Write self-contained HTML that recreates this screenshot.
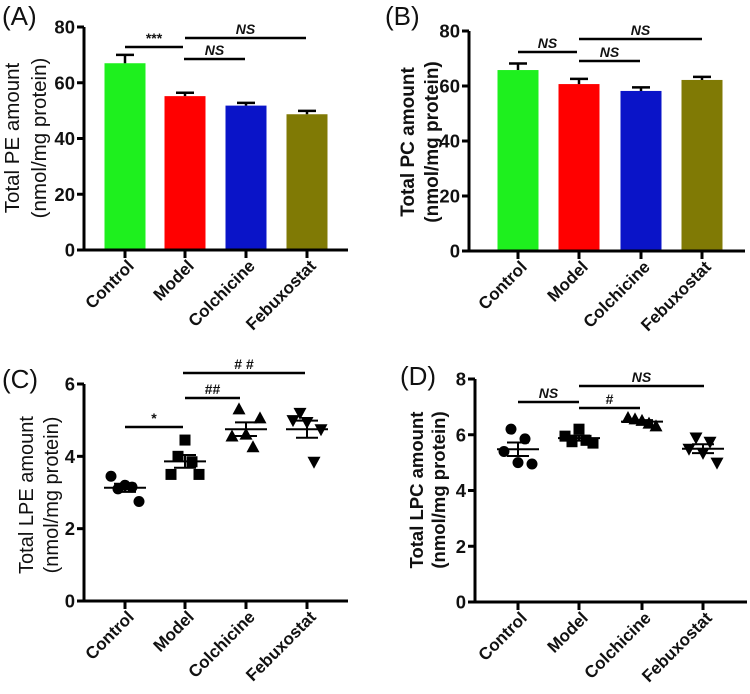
<!DOCTYPE html>
<html><head><meta charset="utf-8"><style>
html,body{margin:0;padding:0;background:#fff;}
svg{display:block;font-family:"Liberation Sans",Arial,sans-serif;}
</style></head><body>
<svg id="fig" width="750" height="694" viewBox="0 0 750 694"></svg>
<script>
const categories = ["Control","Model","Colchicine","Febuxostat"];
const barColors = ["#1ef01e","#ff0000","#0a14c8","#807a05"];
const peMeans = [67, 55.2, 51.8, 48.7];
const peErr = [3.0, 1.2, 1.0, 1.2];
const pcMeans = [65.8, 60.7, 58.2, 62.2];
const pcErr = [2.4, 1.9, 1.3, 1.1];
const lpeCtrl = [3.45, 3.1, 3.2, 3.15, 2.75];
const lpeModel = [3.5, 4.0, 4.45, 3.85, 3.5];
const lpeColc = [4.55, 5.3, 4.6, 4.25, 5.05];
const lpeFebu = [5.0, 5.2, 4.95, 3.85, 4.75];
const lpcCtrl = [5.4, 6.2, 5.0, 5.85, 4.95];
const lpcModel = [5.95, 5.75, 6.2, 5.8, 5.7];
const lpcColc = [6.6, 6.55, 6.5, 6.4, 6.3];
const lpcFebu = [5.5, 5.9, 5.35, 5.75, 5.0];
const barTicks = [0,20,40,60,80];
const lpeTicks = [0,2,4,6];
const lpcTicks = [0,2,4,6,8];

const NS='http://www.w3.org/2000/svg';
const svg=document.getElementById('fig');
function mk(tag,attrs,parent){const e=document.createElementNS(NS,tag);for(const k in attrs)e.setAttribute(k,attrs[k]);(parent||svg).appendChild(e);return e;}
function txt(s,attrs,parent){const e=mk('text',attrs,parent);e.textContent=s;return e;}
function mean(a){return a.reduce((s,v)=>s+v,0)/a.length;}
function sem(a){const m=mean(a);return Math.sqrt(a.reduce((s,v)=>s+(v-m)*(v-m),0)/(a.length-1))/Math.sqrt(a.length);}
const jitter=[-14,-7,0,7,14];

function panel(o){
  const g=mk('g',{});
  
  
  const y=v=>o.y0-(v/o.ymax)*(o.y0-o.yTop);
  const x=i=>o.cx[i];
  const pl=txt('('+o.id.toUpperCase()+')',{x:o.lx,y:o.ly,'font-size':26,fill:'#111'},g);
  
  
  const t1=txt(o.t1,{transform:`translate(${o.tx1},${o.ty}) rotate(-90)`,'text-anchor':'middle','font-size':o.tfs,'font-weight':o.tfw,fill:'#111'},g);
  
  
  const t2=txt('(nmol/mg protein)',{transform:`translate(${o.tx2},${o.ty}) rotate(-90)`,'text-anchor':'middle','font-size':o.tfs,'font-weight':o.tfw,fill:'#111'},g);
  
  
  if(o.means){
    o.means.forEach((m,i)=>{
      const r=mk('rect',{x:x(i)-20.5,y:y(m),width:41,height:o.y0-y(m),fill:barColors[i]},g);
      
      
      const e=mk('path',{d:`M${x(i)} ${y(m)}V${y(m+o.err[i])}M${x(i)-9} ${y(m+o.err[i])}H${x(i)+9}`,stroke:'#000','stroke-width':2.5,fill:'none'},g);
      
      
    });
  } else {
    o.pts.forEach((arr,i)=>{
      arr.forEach((v,j)=>{
        const px=x(i)+jitter[j], py=y(v);
        let p;
        if(i===0) p=mk('circle',{cx:px,cy:py,r:5.5,fill:'#000'},g);
        else if(i===1) p=mk('rect',{x:px-5.5,y:py-5.5,width:11,height:11,fill:'#000'},g);
        else if(i===2) p=mk('path',{d:`M${px} ${py-7}L${px+6.5} ${py+5}L${px-6.5} ${py+5}Z`,fill:'#000'},g);
        else p=mk('path',{d:`M${px} ${py+7}L${px+6.5} ${py-5}L${px-6.5} ${py-5}Z`,fill:'#000'},g);
        
        
      });
      const m=mean(arr),s=sem(arr);
      const e=mk('path',{d:`M${x(i)-21} ${y(m)}H${x(i)+21}M${x(i)} ${y(m-s)}V${y(m+s)}M${x(i)-11} ${y(m-s)}H${x(i)+11}M${x(i)-11} ${y(m+s)}H${x(i)+11}`,stroke:'#000','stroke-width':2,fill:'none'},g);
      
      
    });
  }
  const ax=mk('path',{d:`M${o.ax} ${o.yTop}V${o.y0}H${o.xEnd}`,stroke:'#000','stroke-width':3,fill:'none'},g);
  
  
  o.ticks.forEach(t=>{
    mk('line',{x1:o.ax-7,x2:o.ax,y1:y(t),y2:y(t),stroke:'#000','stroke-width':3},g);
    const l=txt(String(t),{x:o.ax-9,y:y(t)+6.5,'text-anchor':'end','font-size':18.5,'font-weight':'bold',fill:'#111'},g);
    
    
  });
  categories.forEach((c,i)=>{
    mk('line',{x1:x(i),x2:x(i),y1:o.y0,y2:o.y0+8,stroke:'#000','stroke-width':3},g);
    const l=txt(c,{transform:`translate(${x(i)+10},${o.y0+17}) rotate(-45)`,'text-anchor':'end','font-size':17,'font-weight':'bold',fill:'#111'},g);
    
    
  });
  o.sig.forEach(s=>{
    const l=mk('line',{x1:s[0],x2:s[1],y1:s[2],y2:s[2],stroke:'#000','stroke-width':2.5},g);
    
    
    const t=txt(s[3],{x:(s[0]+s[1])/2,y:s[2]-4,'text-anchor':'middle','font-size':14,'font-weight':'bold','font-style':s[3]==='NS'?'italic':'normal',fill:'#111'},g);
    
    
  });
}
panel({id:'a',means:peMeans,err:peErr,ymax:80,ticks:barTicks,ax:84,y0:250,yTop:27,xEnd:348,cx:[125,185,246,307],
  lx:2,ly:25,t1:'Total PE amount',tx1:19,tx2:46,ty:138,tfs:20.5,tfw:'normal',
  sig:[[125,183,47,'***'],[185,306,38,'NS'],[184,245,59,'NS']]});
panel({id:'b',means:pcMeans,err:pcErr,ymax:80,ticks:barTicks,ax:469,y0:251,yTop:31,xEnd:745,cx:[518,579,641,702],
  lx:385,ly:25,t1:'Total PC amount',tx1:414,tx2:438,ty:142,tfs:19,tfw:'bold',
  sig:[[518,577,52,'NS'],[579,702,39,'NS'],[579,640,61,'NS']]});
panel({id:'c',pts:[lpeCtrl,lpeModel,lpeColc,lpeFebu],ymax:6,ticks:lpeTicks,ax:84,y0:601,yTop:384,xEnd:348,cx:[125,185,246,307],
  lx:2,ly:388,t1:'Total LPE amount',tx1:33,tx2:58,ty:495,tfs:20,tfw:'normal',
  sig:[[125,183,427,'*'],[183,305,373,'# #'],[185,240,398,'##']]});
panel({id:'d',pts:[lpcCtrl,lpcModel,lpcColc,lpcFebu],ymax:8,ticks:lpcTicks,ax:475,y0:602,yTop:379,xEnd:747,cx:[518,579,642,703],
  lx:400,ly:385,t1:'Total LPC amount',tx1:423,tx2:445,ty:490,tfs:18.5,tfw:'bold',
  sig:[[518,579,402,'NS'],[579,704,386,'NS'],[579,640,408,'#']]});
</script>
</body></html>
